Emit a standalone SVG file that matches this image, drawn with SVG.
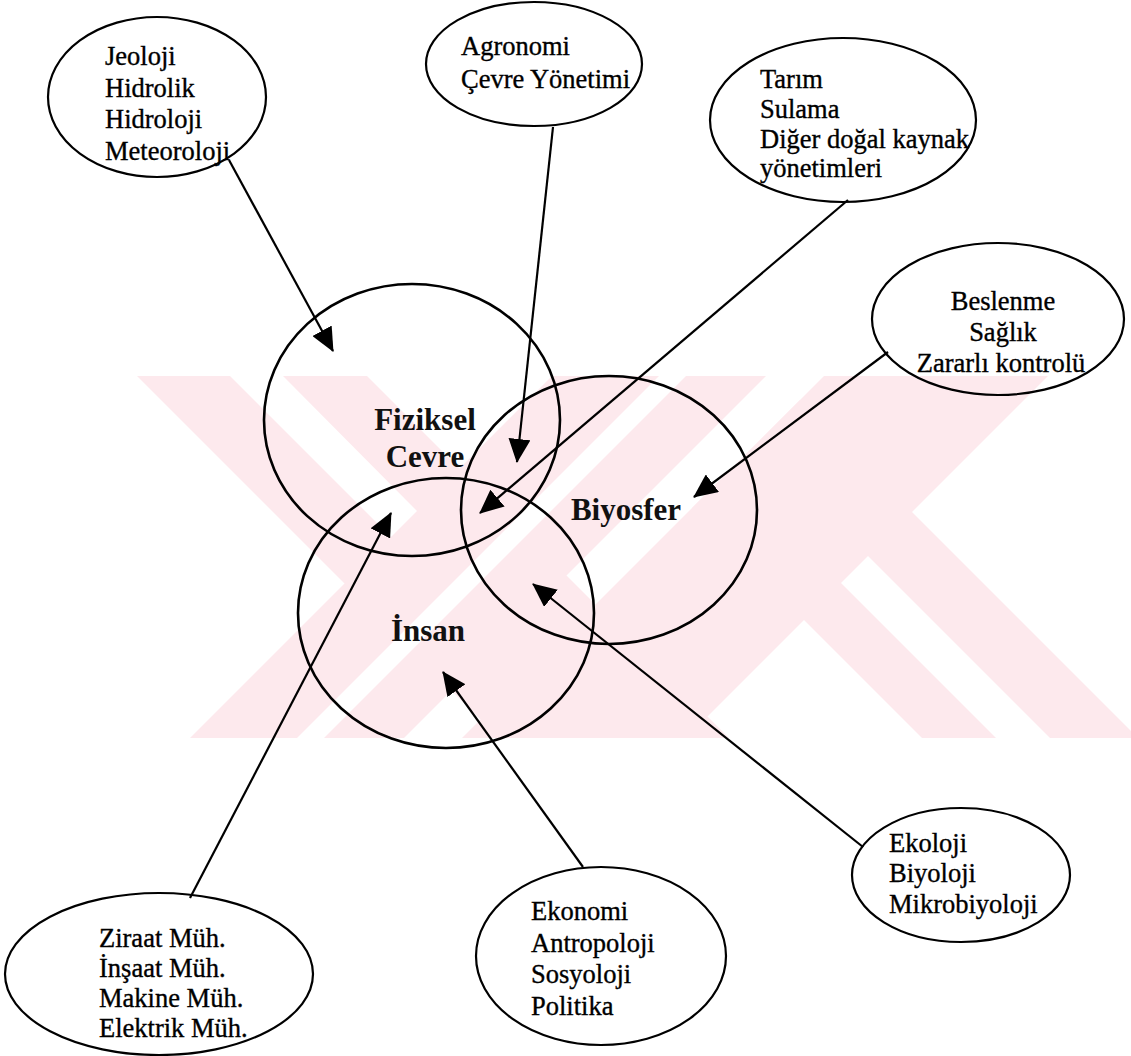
<svg xmlns="http://www.w3.org/2000/svg" width="1131" height="1056" viewBox="0 0 1131 1056">
  <style>
    .bubble { fill: none; stroke: #000; stroke-width: 2.2; }
    .sphere { fill: none; stroke: #000; stroke-width: 2.6; }
    .item { font-family: "Liberation Serif", "Times New Roman", serif; font-size: 26.5px; fill: #000; stroke: #000; stroke-width: 0.35; }
    .head { font-family: "Liberation Serif", "Times New Roman", serif; font-size: 31px; font-weight: bold; fill: #111; text-anchor: middle; }
    .link { stroke: #000; stroke-width: 2.2; fill: none; marker-end: url(#tip); }
    .mark { fill: #fde9ed; }
    .gap { fill: #ffffff; }
  </style>
  <defs>
    <marker id="tip" markerUnits="userSpaceOnUse" markerWidth="24" markerHeight="22" viewBox="0 0 24 22" refX="23" refY="11" orient="auto">
      <path d="M0,0 L24,11 L0,22 z" fill="#000"/>
    </marker>
    <clipPath id="band">
      <rect x="0" y="376" width="1131" height="362"/>
    </clipPath>
  </defs>

  <rect width="1131" height="1056" fill="#fff"/>

  <!-- pale striped emblem in the background -->
  <g id="emblem" clip-path="url(#band)">
    <polygon class="mark" points="137,376 367,376 729,738 499,738"/>
    <polygon class="mark" points="552,376 766,376 404,738 190,738"/>
    <polygon class="mark" points="824,376 1048,376 686,738 462,738"/>
    <polygon class="mark" points="692,508 800,400 1138,738 922,738"/>
    <polygon class="gap" points="230,376 283,376 417,511 391,537"/>
    <polygon class="gap" points="659,376 686,376 324,738 297,738"/>
    <polygon class="gap" points="841,583 868,556 1050,738 996,738"/>
  </g>

  <!-- the three overlapping spheres -->
  <g id="fiziksel-cevre">
    <ellipse class="sphere" cx="412" cy="420" rx="148" ry="136"/>
    <text class="head" x="425" y="430">Fiziksel</text>
    <text class="head" x="425" y="467">Cevre</text>
  </g>
  <g id="biyosfer">
    <ellipse class="sphere" cx="609" cy="510" rx="148" ry="134"/>
    <text class="head" x="626" y="520">Biyosfer</text>
  </g>
  <g id="insan">
    <ellipse class="sphere" cx="446" cy="613" rx="148" ry="135"/>
    <text class="head" x="428" y="641">İnsan</text>
  </g>

  <!-- discipline bubbles -->
  <g id="jeoloji">
    <ellipse class="bubble" cx="157" cy="97" rx="109" ry="80"/>
    <text class="item" x="105" y="65">Jeoloji</text>
    <text class="item" x="105" y="97">Hidrolik</text>
    <text class="item" x="105" y="128">Hidroloji</text>
    <text class="item" x="105" y="160">Meteoroloji</text>
  </g>
  <g id="agronomi">
    <ellipse class="bubble" cx="534" cy="64" rx="108" ry="62"/>
    <text class="item" x="461" y="55">Agronomi</text>
    <text class="item" x="461" y="88">Çevre Yönetimi</text>
  </g>
  <g id="tarim">
    <ellipse class="bubble" cx="843" cy="120" rx="133" ry="82"/>
    <text class="item" x="760" y="88">Tarım</text>
    <text class="item" x="760" y="118">Sulama</text>
    <text class="item" x="760" y="148">Diğer doğal kaynak</text>
    <text class="item" x="760" y="177">yönetimleri</text>
  </g>
  <g id="beslenme">
    <ellipse class="bubble" cx="998" cy="319" rx="126" ry="76"/>
    <text class="item" x="1003" y="310" text-anchor="middle" font-size="28">Beslenme</text>
    <text class="item" x="1003" y="341" text-anchor="middle" font-size="28">Sağlık</text>
    <text class="item" x="1001" y="372" text-anchor="middle" font-size="28">Zararlı kontrolü</text>
  </g>
  <g id="ziraat">
    <ellipse class="bubble" cx="159" cy="974" rx="154" ry="81"/>
    <text class="item" x="99" y="947">Ziraat Müh.</text>
    <text class="item" x="99" y="977">İnşaat Müh.</text>
    <text class="item" x="99" y="1007">Makine Müh.</text>
    <text class="item" x="99" y="1037">Elektrik Müh.</text>
  </g>
  <g id="ekonomi">
    <ellipse class="bubble" cx="601" cy="956" rx="125" ry="89"/>
    <text class="item" x="531" y="920">Ekonomi</text>
    <text class="item" x="531" y="952">Antropoloji</text>
    <text class="item" x="531" y="983">Sosyoloji</text>
    <text class="item" x="531" y="1015">Politika</text>
  </g>
  <g id="ekoloji">
    <ellipse class="bubble" cx="961" cy="875" rx="109" ry="67"/>
    <text class="item" x="889" y="852">Ekoloji</text>
    <text class="item" x="889" y="882">Biyoloji</text>
    <text class="item" x="889" y="913">Mikrobiyoloji</text>
  </g>

  <!-- arrows from each bubble into the spheres -->
  <g id="connectors">
    <line class="link" x1="229" y1="160" x2="333" y2="351"/>
    <line class="link" x1="553" y1="127" x2="517" y2="462"/>
    <line class="link" x1="848" y1="200" x2="480" y2="513"/>
    <line class="link" x1="888" y1="352" x2="694" y2="497"/>
    <line class="link" x1="190" y1="898" x2="391" y2="513"/>
    <line class="link" x1="583" y1="867" x2="443" y2="672"/>
    <line class="link" x1="863" y1="847" x2="533" y2="584"/>
  </g>
</svg>
